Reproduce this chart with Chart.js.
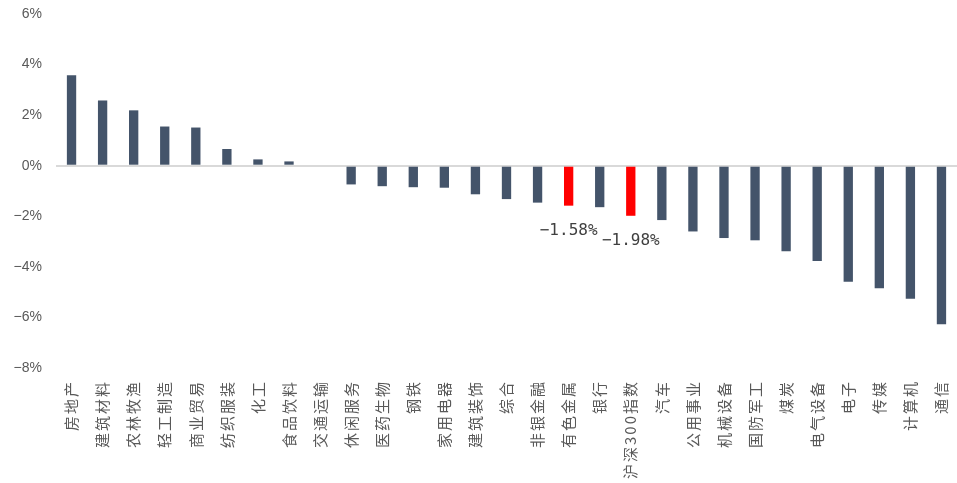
<!DOCTYPE html>
<html>
<head>
<meta charset="utf-8">
<script src="https://cdn.jsdelivr.net/npm/chart.js@4/dist/chart.umd.min.js"></script>
<style>
  html, body { margin: 0; padding: 0; background: #ffffff; }
  #wrap { width: 957px; height: 483px; }
</style>
</head>
<body>
<div id="wrap"><canvas id="c" width="957" height="483"></canvas></div>
<script>
// 行业周涨跌幅（%）
const categories = ['房地产','建筑材料','农林牧渔','轻工制造','商业贸易','纺织服装','化工','食品饮料','交通运输','休闲服务','医药生物','钢铁','家用电器','建筑装饰','综合','非银金融','有色金属','银行','沪深300指数','汽车','公用事业','机械设备','国防军工','煤炭','电气设备','电子','传媒','计算机','通信'];
const changes = [3.58, 2.58, 2.19, 1.55, 1.51, 0.66, 0.25, 0.17, 0.00, -0.74, -0.81, -0.85, -0.87, -1.13, -1.32, -1.46, -1.58, -1.64, -1.98, -2.15, -2.60, -2.86, -2.95, -3.38, -3.77, -4.59, -4.85, -5.26, -6.27];
const highlighted = ['有色金属', '沪深300指数'];
const yTicks = [6, 4, 2, 0, -2, -4, -6, -8];

const BASE = '#44546a';
const HIGHLIGHT = '#ff0000';

const pct = v => (v < 0 ? '\u2212' : '') + Math.abs(v) + '%';
const pctFixed = v => (v < 0 ? '\u2212' : '') + Math.abs(v).toFixed(2) + '%';

// value labels under the highlighted bars
const valueLabels = {
  id: 'valueLabels',
  afterDatasetsDraw(chart) {
    const ctx = chart.ctx;
    const meta = chart.getDatasetMeta(0);
    ctx.save();
    ctx.font = '16px "DejaVu Sans Mono", monospace';
    ctx.fillStyle = '#404040';
    ctx.textAlign = 'center';
    ctx.textBaseline = 'middle';
    categories.forEach((name, i) => {
      if (!highlighted.includes(name)) return;
      const bar = meta.data[i];
      const v = changes[i];
      const y = v < 0 ? bar.y + 25 : bar.y - 25;
      ctx.fillText(pctFixed(v), bar.x, y);
    });
    ctx.restore();
  }
};

new Chart(document.getElementById('c'), {
  type: 'bar',
  data: {
    labels: categories,
    datasets: [{
      data: changes,
      backgroundColor: categories.map(n => highlighted.includes(n) ? HIGHLIGHT : BASE),
      borderWidth: 0,
      barPercentage: 0.3,
      categoryPercentage: 1.0
    }]
  },
  options: {
    responsive: false,
    animation: false,
    devicePixelRatio: 1,
    layout: { padding: { top: 14, right: 0, bottom: 0, left: 0 } },
    plugins: {
      legend: { display: false },
      tooltip: { enabled: false }
    },
    scales: {
      x: {
        grid: { display: false, drawTicks: false },
        border: { display: false },
        ticks: {
          autoSkip: false,
          minRotation: 90,
          maxRotation: 90,
          padding: 12,
          color: '#595959',
          font: { family: '"Noto Sans CJK SC", sans-serif', size: 15 }
        },
        afterFit(scale) {
          scale.height = 115;
          scale.paddingLeft = 0;
          scale.paddingRight = 0;
        },
        afterUpdate(scale) {
          if (scale._spaced) return;
          scale._spaced = true;
          const draw = scale.drawLabels.bind(scale);
          scale.drawLabels = function (area) {
            this.ctx.save();
            this.ctx.letterSpacing = '2px';
            draw(area);
            this.ctx.restore();
          };
        }
      },
      y: {
        min: -8,
        max: 6,
        afterBuildTicks(scale) { scale.ticks = yTicks.map(v => ({ value: v })); },
        grid: {
          drawTicks: false,
          color: c => (c.tick && c.tick.value === 0) ? '#d9d9d9' : 'rgba(0,0,0,0)',
          lineWidth: 2
        },
        border: { display: false },
        ticks: {
          padding: 14,
          color: '#595959',
          font: { family: '"Liberation Sans", sans-serif', size: 14 },
          callback: v => pct(v)
        },
        afterFit(scale) {
          scale.width = 56;
          scale.paddingTop = 0;
          scale.paddingBottom = 0;
        }
      }
    }
  },
  plugins: [valueLabels]
});
</script>
</body>
</html>
